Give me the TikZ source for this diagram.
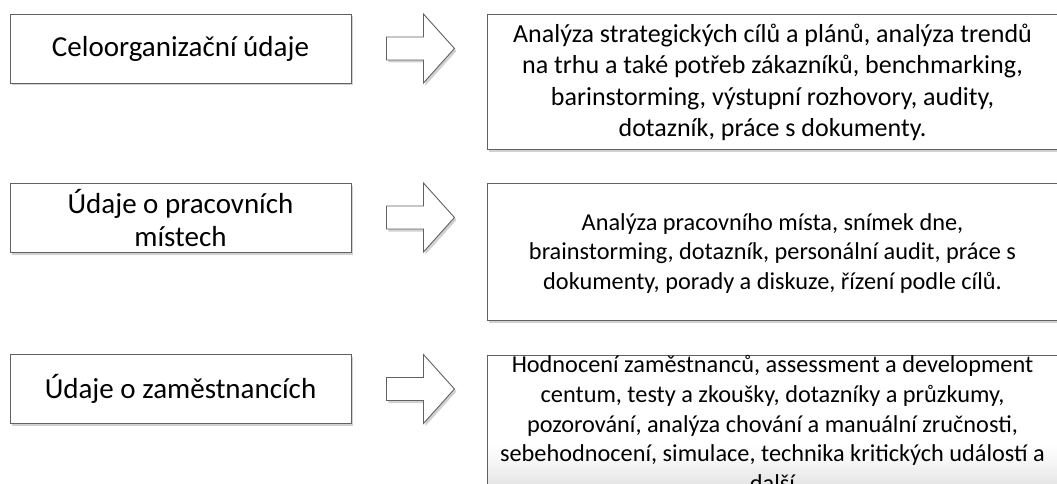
\documentclass[tikz,border=0pt]{standalone}
\usepackage{fontspec}
\setmainfont{Carlito}
\usetikzlibrary{shadows,calc}
\tikzset{
  sh/.style={drop shadow={shadow xshift=2pt,shadow yshift=-2.5pt,fill=black!30,opacity=0.6}},
  lbox/.style={draw=black!62,line width=0.9pt,fill=white,sh,minimum width=341pt,minimum height=69pt,inner sep=0pt,align=center,font=\fontsize{29pt}{33pt}\selectfont},
  rbox/.style={draw=black!62,line width=0.9pt,fill=white,sh,minimum width=571pt,inner sep=0pt},
  rtext/.style={inner sep=0pt,align=center,font=\fontsize{24.3pt}{29.7pt}\selectfont},
  rtextbig/.style={inner sep=0pt,align=center,font=\fontsize{26pt}{31.5pt}\selectfont},
  arrowstyle/.style={draw=black!62,line width=0.9pt,fill=white,sh,line join=miter},
  blockarrow/.pic={\path[arrowstyle] (0,-11.5) -- (37,-11.5) -- (37,-34.5) -- (68,0) -- (37,34.5) -- (37,11.5) -- (0,11.5) -- cycle;}
}
\begin{document}
\begin{tikzpicture}[x=1pt,y=-1pt]
\path[use as bounding box,clip] (0,0) rectangle (1057,484);
% left boxes
\node[lbox] (L1) at (180.5,48.5) {Celoorganizační údaje};
\node[lbox] (L2) at (180.5,217.5) {Údaje o pracovních\\místech};
\node[lbox] (L3) at (180.5,389) {Údaje o zaměstnancích};
% arrows
\pic at ($(L1.east)+(35,0)$) {blockarrow};
\pic at ($(L2.east)+(35,0)$) {blockarrow};
\pic at ($(L3.east)+(35,0)$) {blockarrow};
% right boxes
\node[rbox,minimum height=135pt] (R1) at (772.5,81.5) {};
\node[rbox,minimum height=137pt] (R2) at (772.5,251.5) {};
\node[rbox,minimum height=137pt] (R3) at (772.5,423.5) {};
\foreach \i in {0,...,41} {
  \pgfmathsetmacro\g{10*(\i/41)^1.3}
  \fill[black!\g] (488,443+\i) rectangle (1057,444.05+\i);
}
\node[rtextbig] (T1) at ([yshift=-1pt]R1.center) {Analýza strategických cílů a plánů, analýza trendů\\na trhu a také potřeb zákazníků, benchmarking,\\barinstorming, výstupní rozhovory, audity,\\dotazník, práce s dokumenty.};
\node[rtext] (T2) at ([yshift=-2pt]R2.center) {Analýza pracovního místa, snímek dne,\\brainstorming, dotazník, personální audit, práce s\\dokumenty, porady a diskuze, řízení podle cílů.};
\node[rtext] (T3) at (R3.center) {Hodnocení zaměstnanců, assessment a development\\centum, testy a zkoušky, dotazníky a průzkumy,\\pozorování, analýza chování a manuální zručnosti,\\sebehodnocení, simulace, technika kritických událostí a\\další};
\end{tikzpicture}
\end{document}
